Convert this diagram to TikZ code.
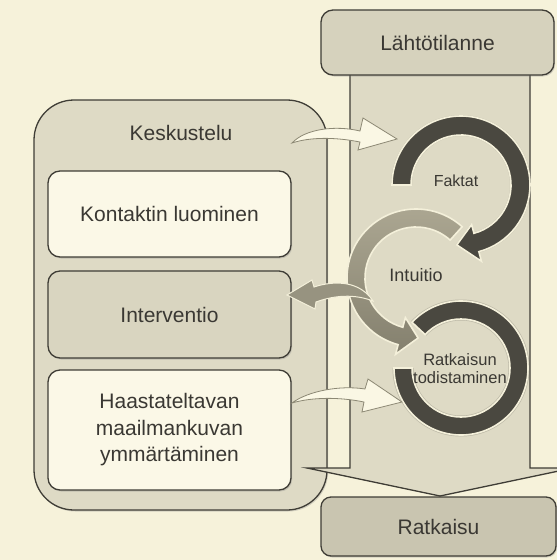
\documentclass[tikz,border=0pt]{standalone}
\usepackage{fontspec}
\setmainfont{Liberation Sans}
\usetikzlibrary{shadows}
\definecolor{bg}{HTML}{F6F2DA}
\definecolor{panel}{HTML}{DEDAC5}
\definecolor{lightbox}{HTML}{FBF8E7}
\definecolor{midbox}{HTML}{D9D5C0}
\definecolor{topbox}{HTML}{D6D2BD}
\definecolor{endbox}{HTML}{C9C5B0}
\definecolor{edge}{HTML}{3F3D36}
\definecolor{txt}{HTML}{3A3833}
\definecolor{ring}{HTML}{4A4840}
\definecolor{intA}{HTML}{ADA893}
\definecolor{intB}{HTML}{84806E}
\definecolor{halo}{HTML}{F4F0DA}
\definecolor{warrow}{HTML}{FAF7E4}
\definecolor{warrowedge}{HTML}{8C8874}
\definecolor{garrow}{HTML}{979380}
\begin{document}
\begin{tikzpicture}[x=1pt,y=-1pt,
  box/.style={draw=edge, line width=1.3pt, rounded corners=12pt, text=txt, align=center,
    font=\fontsize{21}{26.5}\selectfont, inner sep=0pt,
    drop shadow={shadow xshift=1.2pt, shadow yshift=-1.5pt, opacity=0.3}},
  lbl/.style={text=txt, align=center, inner sep=0pt},
  ringfill/.style={fill=ring, draw=halo, line width=1.6pt},
  blockarrow/.style={fill=warrow, draw=warrowedge, line width=0.8pt},
]
\fill[bg] (0,0) rectangle (557,560);
\useasboundingbox (0,0) rectangle (557,560);
\clip (0,0) rectangle (557,560);

% left panel
\node[box, fill=panel, rounded corners=40pt, minimum width=293pt, minimum height=410pt] (panel) at (180.5,305) {};
\node[lbl, font=\fontsize{21}{26}\selectfont] (kesk) at (181,133) {Keskustelu};

% big process arrow
\draw[draw=edge, line width=1.3pt, fill=panel] (350,60) -- (350,468) -- (307,468) -- (440,496)
  -- (573,468) -- (530,468) -- (530,60) -- cycle;

% top and bottom boxes
\node[box, fill=topbox, minimum width=233pt, minimum height=65pt] (start) at (437.5,42.5) {L\"aht\"otilanne};
\node[box, fill=endbox, rounded corners=10pt, minimum width=235pt, minimum height=59pt] (end) at (438.5,526.5) {Ratkaisu};

% inner boxes
\node[box, fill=lightbox, minimum width=243pt, minimum height=86pt] (kontakt) at (169.5,214) {Kontaktin luominen};
\node[box, fill=midbox, minimum width=243pt, minimum height=87pt] (interv) at (169.5,314.5) {Interventio};
\node[box, fill=lightbox, minimum width=243pt, minimum height=120pt] (haast) at (169.5,430) {Haastateltavan\\maailmankuvan\\ymm\"art\"aminen};

% ring: Ratkaisun todistaminen
\begin{scope}[shift={(461,368)}]
\coordinate (rc) at (0,0);
\fill[black, opacity=0.15] (-137:68.5) arc[start angle=-137,end angle=180,radius=68.5] -- (180:47.5) arc[start angle=180,end angle=-137,radius=47.5] -- cycle;
\draw[ringfill] (-137:67) arc[start angle=-137,end angle=180,radius=67] -- (180:49) arc[start angle=180,end angle=-137,radius=49] -- cycle;
\end{scope}

% ring: Intuitio
\begin{scope}[shift={(416,278)}]
\coordinate (ic) at (0,0);
\shadedraw[top color=intA, bottom color=intB, draw=halo, line width=1.6pt]
  (-48:69) arc[start angle=-48,end angle=-255,radius=69] -- (-255:79) -- (-272:60) -- (-255:41)
  -- (-255:51) arc[start angle=-255,end angle=-48,radius=51] -- cycle;
\end{scope}

% ring: Faktat
\begin{scope}[shift={(461,185)}]
\coordinate (fc) at (0,0);
\fill[black, opacity=0.12] (-180:70) arc[start angle=-180,end angle=75,radius=70] -- (75:80) -- (95:60) -- (75:40)
  -- (75:49) arc[start angle=75,end angle=-180,radius=49] -- cycle;
\draw[ringfill] (-180:69) arc[start angle=-180,end angle=75,radius=69] -- (75:79) -- (94:60) -- (75:41)
  -- (75:50) arc[start angle=75,end angle=-180,radius=50] -- cycle;
\end{scope}

% gray arrow to Interventio
\coordinate (gtip) at (287,295);
\coordinate (gtail) at (373,301);
\draw[fill=garrow, draw=halo, line width=1pt] (gtip) -- (312,280) -- (314,287)
  .. controls (335,280) and (360,281) .. (gtail)
  .. controls (355,294) and (335,295) .. (316,302) -- (315,309) -- cycle;

% white curved arrows
\coordinate (a1tail) at (292,143);
\coordinate (a1tip) at (397,139);
\draw[blockarrow] (a1tail) .. controls (305,129) and (335,125) .. (360,131) -- (363,118) -- (a1tip)
  -- (358,150) -- (360,142) .. controls (335,137) and (310,137) .. (a1tail) -- cycle;
\coordinate (a2tail) at (292,403);
\coordinate (a2tip) at (402,402);
\draw[blockarrow] (a2tail) .. controls (308,391) and (340,385) .. (365,389) -- (368,379) -- (a2tip)
  -- (362,412) -- (364,402) .. controls (340,397) and (312,397) .. (a2tail) -- cycle;

% ring labels
\node[lbl, font=\fontsize{16}{18}\selectfont] (faktat) at (456,181) {Faktat};
\node[lbl, font=\fontsize{18}{20}\selectfont] (intuitio) at (416,275) {Intuitio};
\node[lbl, font=\fontsize{16.5}{18}\selectfont] (todist) at (460,369) {Ratkaisun\\todistaminen};
\end{tikzpicture}
\end{document}
